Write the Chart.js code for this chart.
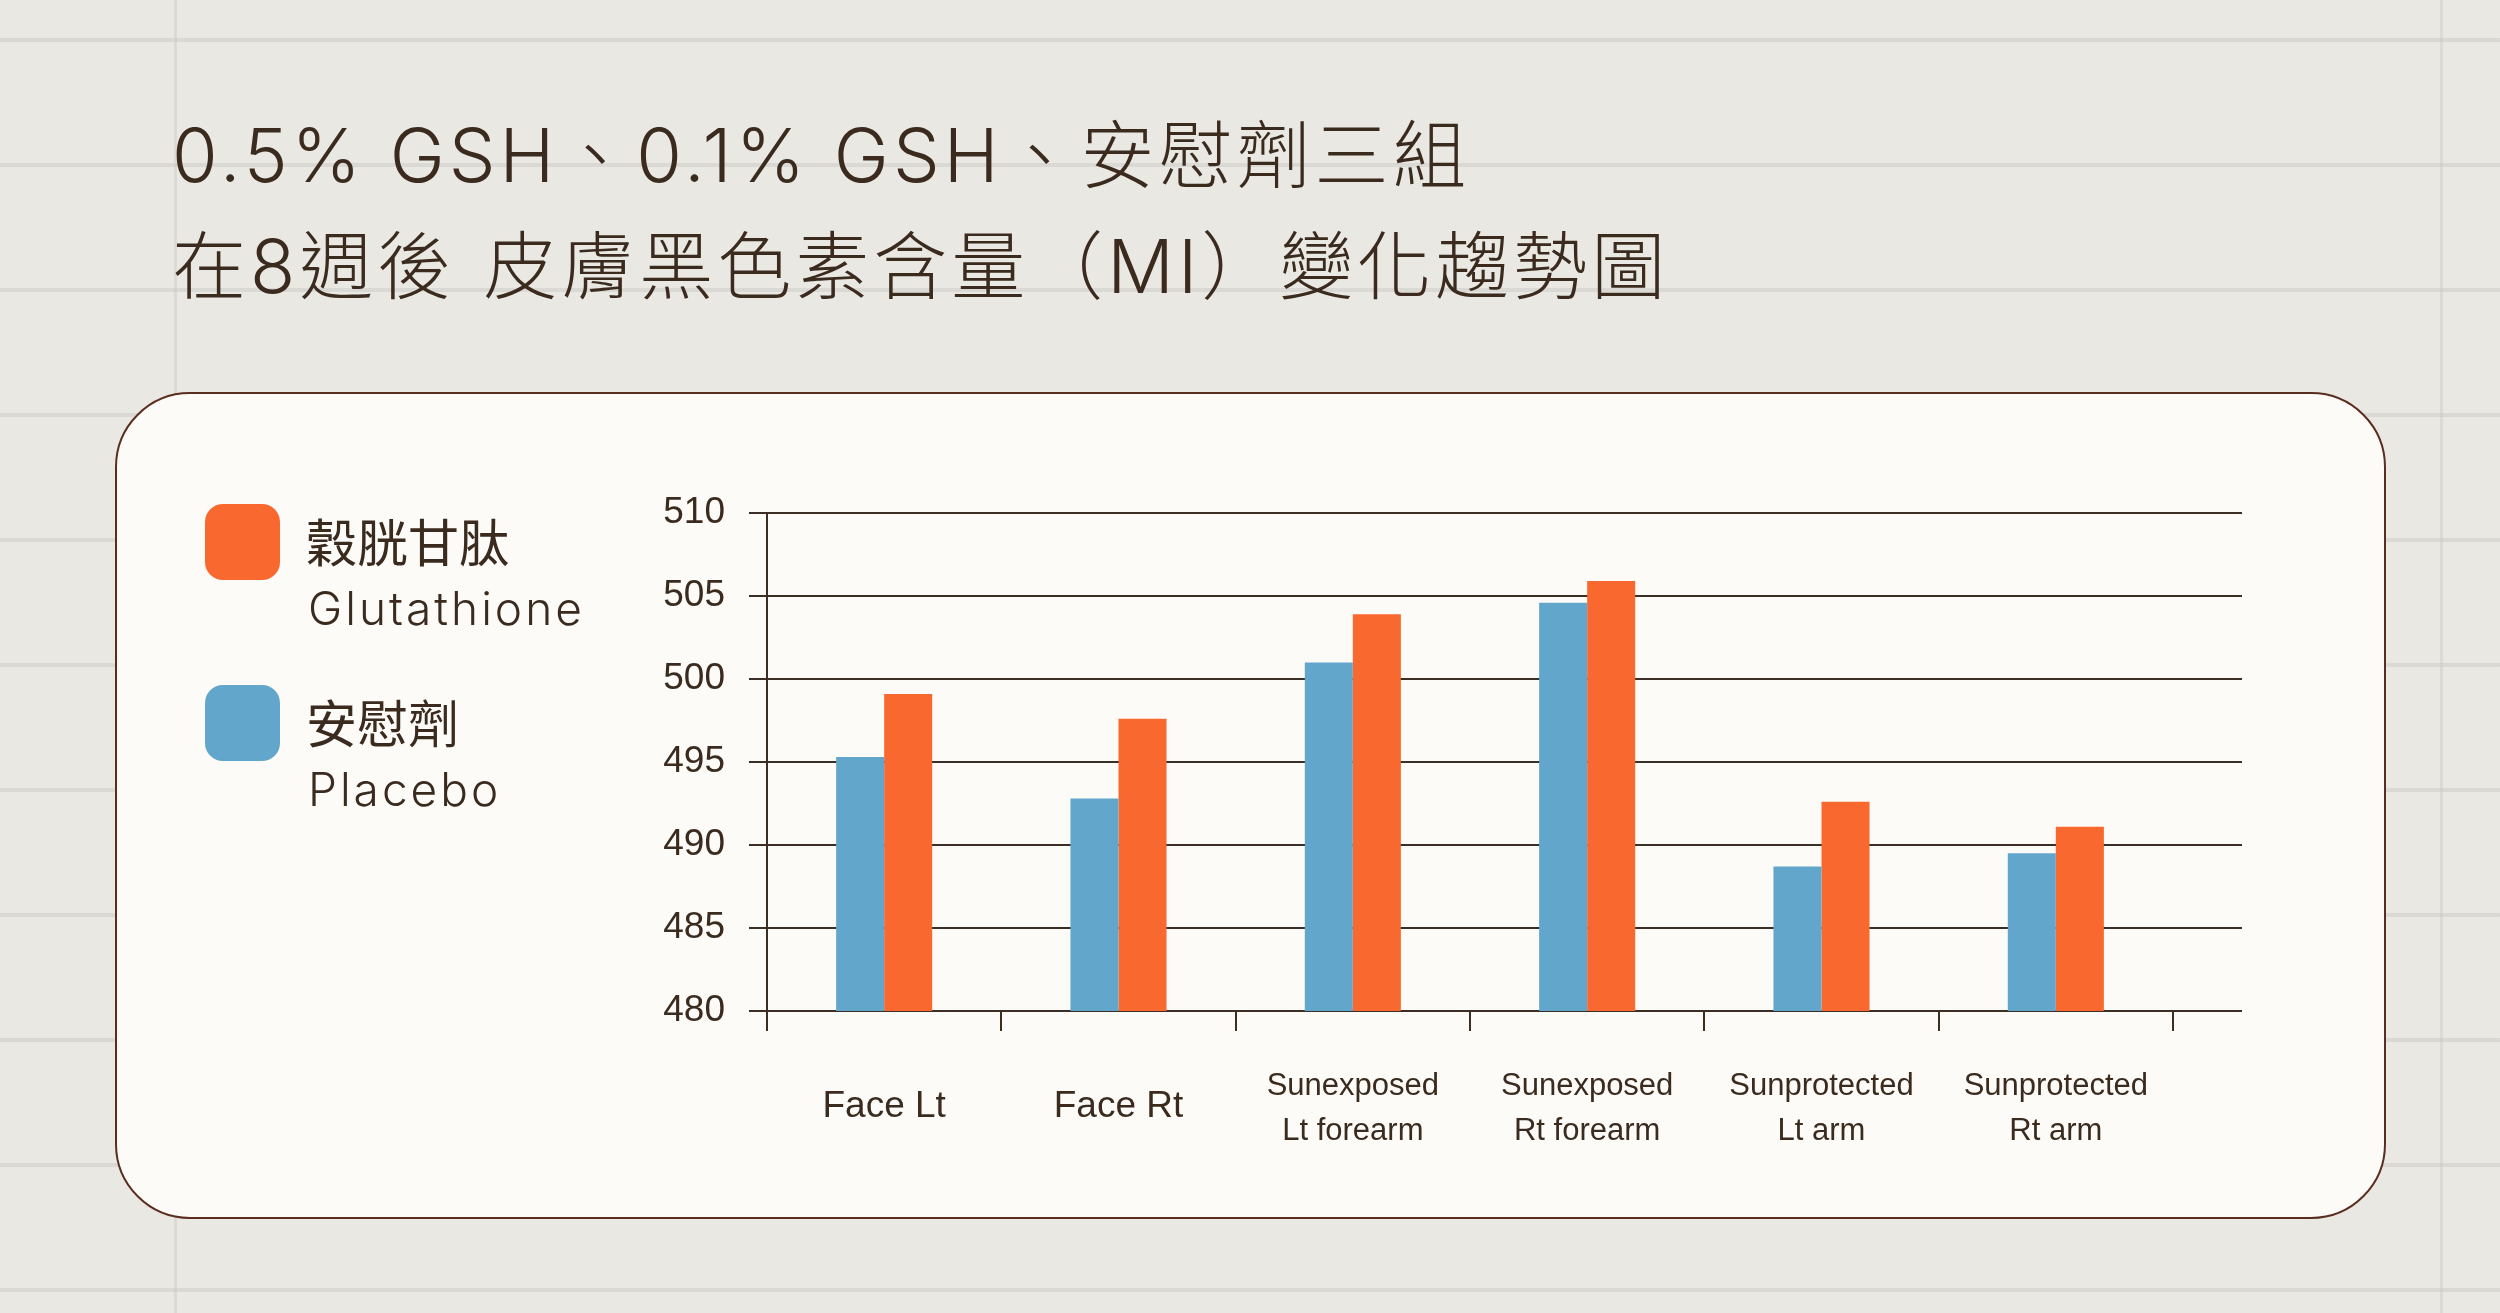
<!DOCTYPE html>
<html lang="zh-Hant">
<head>
<meta charset="utf-8">
<title>GSH 皮膚黑色素含量變化趨勢圖</title>
<script src="https://cdn.jsdelivr.net/npm/chart.js@4.4.1/dist/chart.umd.min.js"></script>
<style>
  html, body { margin: 0; padding: 0; }
  body {
    width: 2500px; height: 1313px; position: relative; overflow: hidden;
    background-color: #eae8e3;
    background-image: repeating-linear-gradient(to bottom,
      transparent 0 38px, rgba(200, 198, 194, 0.45) 38px 42px, transparent 42px 125px);
    font-family: "Inter", "Noto Sans CJK TC", sans-serif;
    color: #3a2b1e;
  }
  .vline { position: absolute; top: 0; width: 3px; height: 1313px; background: rgba(200, 198, 194, 0.4); }
  .title {
    position: absolute; left: 172px; top: 100px;
    font-size: 74px; line-height: 111px; font-weight: 300; letter-spacing: 4px; white-space: nowrap;
  }
  .title .gap { display: inline-block; width: 28px; }
  .card {
    position: absolute; left: 115px; top: 392px; width: 2271px; height: 827px;
    box-sizing: border-box; border: 2px solid #5b2d1f; border-radius: 75px;
    background: #fcfbf8;
  }
  canvas { position: absolute; left: 0; top: 0; }
  .legend { position: absolute; left: 205px; top: 504px; }
  .legend .item { position: relative; height: 181px; }
  .legend .box { position: absolute; left: 0; top: 0; width: 75px; height: 76px; border-radius: 18px; }
  .legend .zh { position: absolute; left: 101px; top: 11px; font-family: "Noto Sans CJK TC", sans-serif; font-size: 51px; line-height: 51px; white-space: nowrap; }
  .legend .en { position: absolute; left: 103px; top: 81px; font-size: 46px; line-height: 46px; font-weight: 300; letter-spacing: 3px; white-space: nowrap; }
</style>
</head>
<body>
<div class="vline" style="left:174px"></div>
<div class="vline" style="left:2440px"></div>
<div class="title">0.5% GSH、0.1% GSH、安慰劑三組<br>在8週後<span class="gap"></span>皮膚黑色素含量（MI）變化趨勢圖</div>
<div class="card"></div>
<canvas id="chart" width="2500" height="1313"></canvas>
<div class="legend" id="legend"></div>
<script>
const categories = [
  'Face Lt',
  'Face Rt',
  ['Sunexposed', 'Lt forearm'],
  ['Sunexposed', 'Rt forearm'],
  ['Sunprotected', 'Lt arm'],
  ['Sunprotected', 'Rt arm'],
];
const placebo = [495.3, 492.8, 501.0, 504.6, 488.7, 489.5];
const glutathione = [499.1, 497.6, 503.9, 505.9, 492.6, 491.1];
const seriesZh = ['安慰劑', '穀胱甘肽'];
const seriesEn = ['Placebo', 'Glutathione'];
const seriesColors = ['#62a6cb', '#f9682f'];
const yTicks = { min: 480, max: 510, step: 5 };

const ink = '#3b2f25';
const textColor = '#3a2b1e';

// horizontal grid lines run a little past the last category
const extendGrid = {
  id: 'extendGrid',
  beforeDatasetsDraw(chart) {
    const { ctx, chartArea, scales: { y } } = chart;
    ctx.save();
    ctx.strokeStyle = ink;
    ctx.lineWidth = 2;
    y.ticks.forEach((t) => {
      const py = y.getPixelForValue(t.value);
      ctx.beginPath();
      ctx.moveTo(chartArea.right, py);
      ctx.lineTo(chartArea.right + 69, py);
      ctx.stroke();
    });
    ctx.restore();
  },
};

const ctx = document.getElementById('chart').getContext('2d');
const chart = new Chart(ctx, {
  type: 'bar',
  data: {
    labels: categories,
    datasets: [
      { label: seriesZh[0], data: placebo, backgroundColor: seriesColors[0] },
      { label: seriesZh[1], data: glutathione, backgroundColor: seriesColors[1] },
    ],
  },
  options: {
    responsive: false,
    animation: false,
    devicePixelRatio: 1,
    categoryPercentage: 0.41,
    barPercentage: 1.0,
    layout: { padding: { left: 0, top: 513, right: 327, bottom: 0 } },
    plugins: { legend: { display: false }, tooltip: { enabled: false } },
    scales: {
      x: {
        afterFit: (s) => { s.height = 302; },
        grid: { offset: true, drawOnChartArea: false, tickLength: 20, color: ink, lineWidth: 2 },
        border: { color: ink, width: 2 },
        ticks: {
          color: textColor,
          padding: 55,
          crossAlign: 'center',
          maxRotation: 0,
          autoSkip: false,
          font: (c) => (Array.isArray(c.tick && c.tick.label)
            ? { family: 'Liberation Sans', size: 31, lineHeight: 1.48 }
            : { family: 'Liberation Sans', size: 37, lineHeight: 1.36 }),
        },
      },
      y: {
        min: yTicks.min,
        max: yTicks.max,
        afterFit: (s) => { s.width = 767; },
        grid: { color: ink, lineWidth: 2, tickLength: 18 },
        border: { color: ink, width: 2 },
        ticks: {
          stepSize: yTicks.step,
          padding: 24,
          color: textColor,
          font: { family: 'Liberation Sans', size: 37 },
        },
      },
    },
  },
  plugins: [extendGrid],
});

// legend built from the datasets, Glutathione first
const legend = document.getElementById('legend');
chart.data.datasets.slice().reverse().forEach((ds) => {
  const i = chart.data.datasets.indexOf(ds);
  const item = document.createElement('div');
  item.className = 'item';
  item.innerHTML = '<div class="box" style="background:' + ds.backgroundColor + '"></div>'
    + '<div class="zh">' + seriesZh[i] + '</div>'
    + '<div class="en">' + seriesEn[i] + '</div>';
  legend.appendChild(item);
});
</script>
</body>
</html>
